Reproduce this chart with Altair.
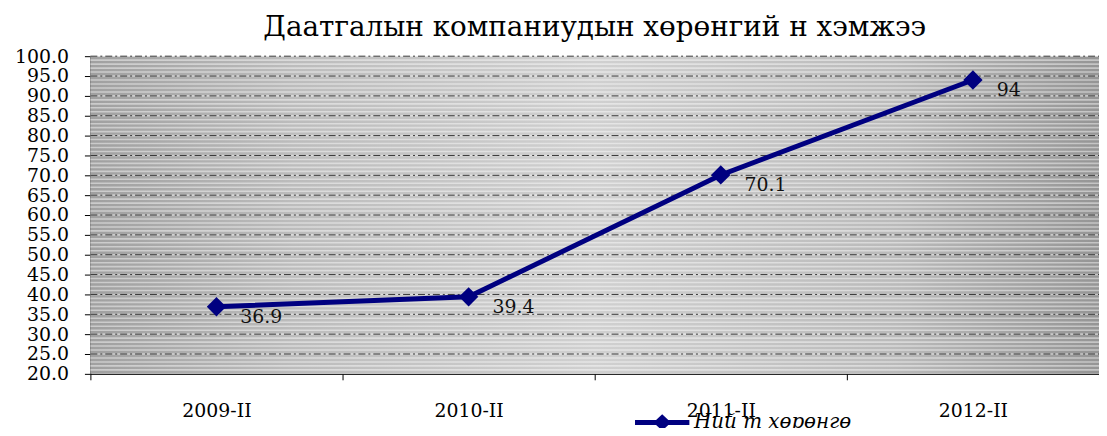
import altair as alt
import pandas as pd

periods = ["2009-II", "2010-II", "2011-II", "2012-II"]
values = [36.9, 39.4, 70.1, 94]
label_text = ["36.9", "39.4", "70.1", "94"]
series_name = "Ний т хөрөнгө"
title_text = "Даатгалын компаниудын хөрөнгий н хэмжээ"
stripe_vals = list(range(21, 101))
grid_vals = list(range(25, 101, 5))
y_tick_vals = list(range(20, 101, 5))

df = pd.DataFrame({"period": periods, "value": values, "label": label_text,
                   "series": [series_name] * len(periods)})
stripes_df = pd.DataFrame({"value": stripe_vals})
grid_df = pd.DataFrame({"value": grid_vals})

W, H = 1016, 320
FONT = "DejaVu Serif"
YS = alt.Scale(domain=[20, 100], nice=False)
Y_AXIS = alt.Axis(title=None, values=y_tick_vals, format=".1f",
                  labelFont=FONT, labelFontSize=19, labelColor="#000",
                  labelPadding=16, labelOverlap=False, labelFlush=False,
                  tickSize=6, tickColor="#000", domainColor="#000",
                  grid=False)

def y_enc():
    return alt.Y("value:Q", scale=YS, axis=Y_AXIS)

bg = alt.Chart(pd.DataFrame({"a": [0]})).mark_rect(
    fill=alt.Gradient(
        gradient="linear", x1=0, y1=0, x2=1, y2=0,
        stops=[alt.GradientStop(offset=0, color="#a0a0a0"),
               alt.GradientStop(offset=0.2, color="#bcbcbc"),
               alt.GradientStop(offset=0.5, color="#d0d0d0"),
               alt.GradientStop(offset=0.8, color="#bababa"),
               alt.GradientStop(offset=1, color="#959595")])
).encode(x=alt.value(0), x2=alt.value(W), y=alt.value(0), y2=alt.value(H))

stripes = alt.Chart(stripes_df).mark_rule(color="#ffffff", strokeWidth=1.6, opacity=0.45).encode(
    y=y_enc(), x=alt.value(0), x2=alt.value(W))

grid = alt.Chart(grid_df).mark_rule(color="#222222", strokeWidth=1, strokeDash=[7, 3, 2, 3], opacity=0.9).encode(
    y=y_enc(), x=alt.value(0), x2=alt.value(W))

x_enc = alt.X("period:N", sort=periods,
              scale=alt.Scale(paddingInner=0, paddingOuter=0),
              axis=alt.Axis(title=None, labelAngle=0, tickBand="extent",
                            labelFont=FONT, labelFontSize=19, labelColor="#000",
                            labelPadding=22, tickSize=6, tickColor="#000",
                            domainColor="#000", grid=False))

base = alt.Chart(df)

line = base.mark_line(strokeWidth=5).encode(
    x=x_enc, y=y_enc(),
    color=alt.Color("series:N", scale=alt.Scale(range=["#000080"]),
                    legend=alt.Legend(title=None, orient="none", legendX=562, legendY=355,
                                      labelFont=FONT, labelFontSize=20, labelFontStyle="italic",
                                      labelColor="#000",
                                      symbolType="M-2,-0.18L-0.45,-0.18L0,-0.6L0.45,-0.18L2,-0.18L2,0.18L0.45,0.18L0,0.6L-0.45,0.18L-2,0.18Z",
                                      symbolSize=750, symbolFillColor="#000080", symbolStrokeWidth=0,
                                      symbolOffset=0, labelOffset=18)))

points = base.mark_point(shape="diamond", filled=True, size=380, opacity=1, color="#000080").encode(
    x=alt.X("period:N", sort=periods), y=y_enc())

labels = base.mark_text(align="left", baseline="middle", dx=24, dy=10,
                        font=FONT, fontSize=19, color="#111").encode(
    x=alt.X("period:N", sort=periods), y=y_enc(), text="label:N")

chart = alt.layer(bg, stripes, grid, line, points, labels).properties(
    width=W, height=H,
    title=alt.Title(title_text, font=FONT, fontSize=28, fontWeight="normal",
                    color="#000", anchor="middle", offset=5),
    autosize=alt.AutoSizeParams(type="none"),
    padding={"left": 83, "top": 47, "right": 0, "bottom": 53},
).configure_view(stroke=None)

chart.save("out.html", embed_options={"renderer": "svg", "actions": False})
